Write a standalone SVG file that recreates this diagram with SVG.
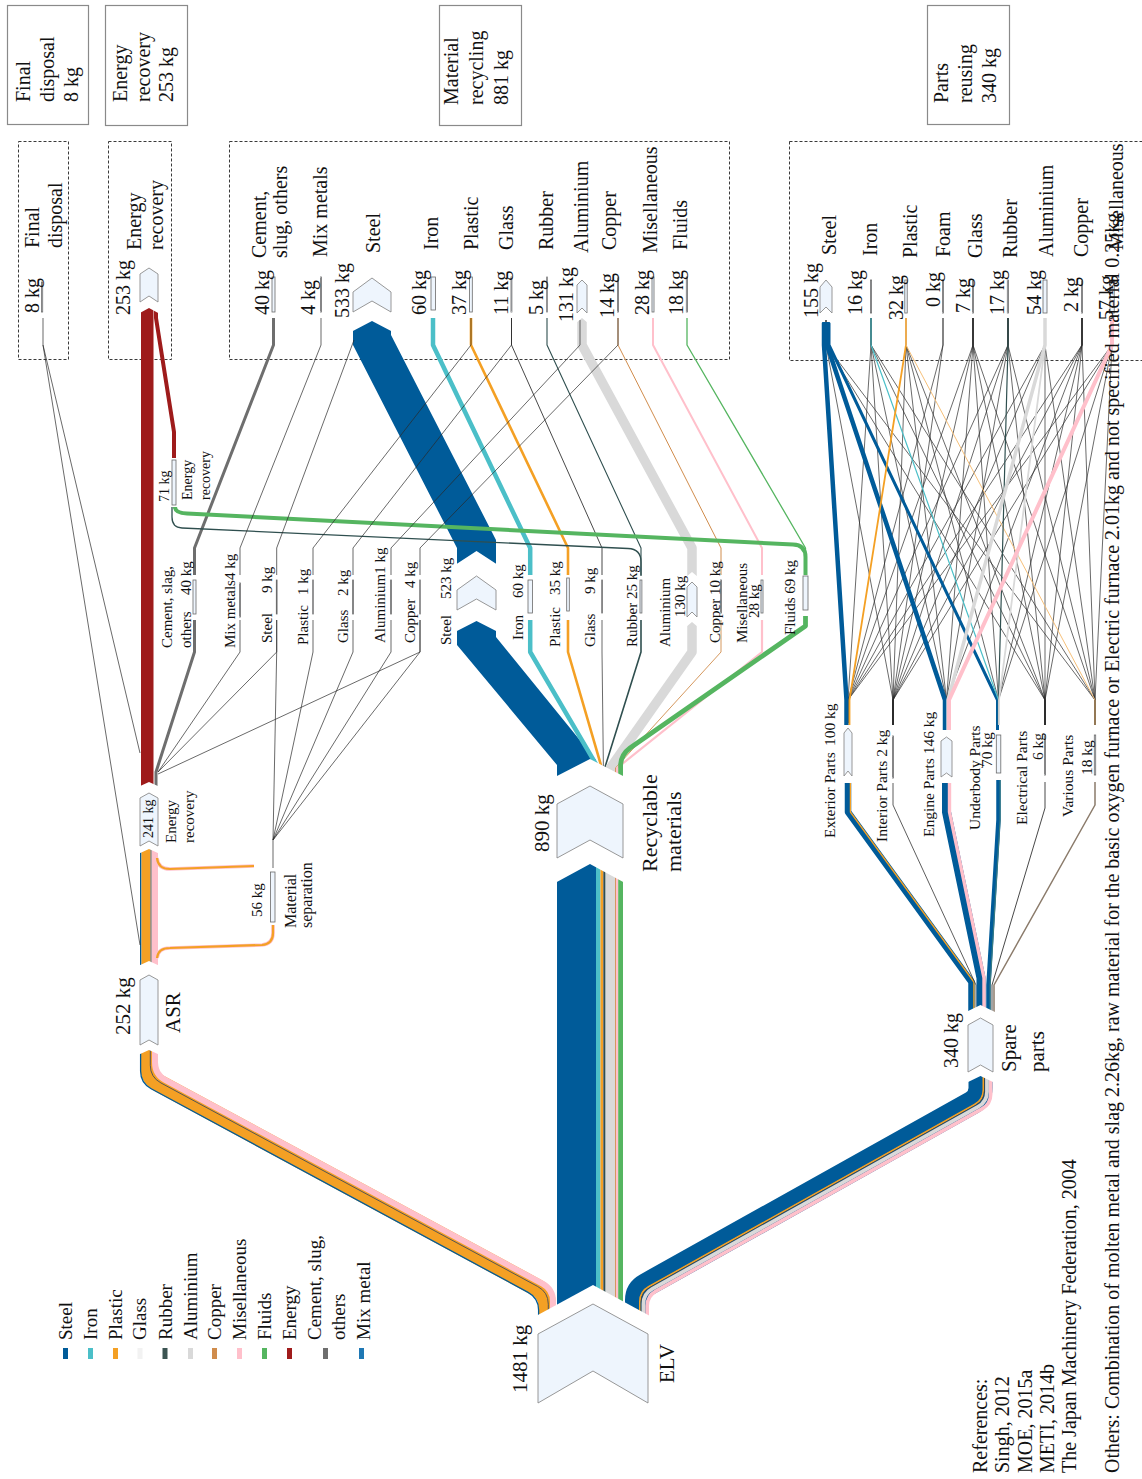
<svg xmlns="http://www.w3.org/2000/svg" width="1142" height="1479" viewBox="0 0 1142 1479">
<style>
text { font-family: "Liberation Serif", "Times New Roman", serif; fill: #111; }
.s22 { font-size: 22px; } .s21 { font-size: 21px; } .s20 { font-size: 20px; } .s19 { font-size: 19px; }
.s16 { font-size: 16px; } .s155 { font-size: 15.5px; } .s15 { font-size: 15px; } .s14 { font-size: 14px; }
.box { fill: none; stroke: #8a8a8a; stroke-width: 1.2; }
.dash { fill: none; stroke: #3a3a3a; stroke-width: 1; stroke-dasharray: 3 2; }
.node { fill: #eef5fd; stroke: #8c8c8c; stroke-width: 0.9; }
.bar { fill: #eef5fd; stroke: #6a6a6a; stroke-width: 0.8; }
.gap { fill: #fff; }
.ln { fill: none; stroke: #2a2a2a; stroke-width: 0.7; stroke-linejoin: round; }
.fl { fill: none; stroke-linejoin: round; }
</style>

<!-- summary boxes -->
<g id="summary-final">
  <rect class="box" x="7.5" y="5.5" width="81" height="119"/>
  <text class="s20" transform="translate(30,102) rotate(-90)">Final</text>
  <text class="s20" transform="translate(54,102) rotate(-90)">disposal</text>
  <text class="s20" transform="translate(78,102) rotate(-90)">8 kg</text>
</g>
<g id="summary-energy">
  <rect class="box" x="105.5" y="5.5" width="82" height="120"/>
  <text class="s20" transform="translate(127,102) rotate(-90)">Energy</text>
  <text class="s20" transform="translate(150,102) rotate(-90)">recovery</text>
  <text class="s20" transform="translate(173,102) rotate(-90)">253 kg</text>
</g>
<g id="summary-material">
  <rect class="box" x="439.5" y="5.5" width="82" height="120"/>
  <text class="s20" transform="translate(458,105) rotate(-90)">Material</text>
  <text class="s20" transform="translate(483,105) rotate(-90)">recycling</text>
  <text class="s20" transform="translate(508,105) rotate(-90)">881 kg</text>
</g>
<g id="summary-parts">
  <rect class="box" x="927.5" y="5.5" width="82" height="119"/>
  <text class="s20" transform="translate(948,103) rotate(-90)">Parts</text>
  <text class="s20" transform="translate(972,103) rotate(-90)">reusing</text>
  <text class="s20" transform="translate(996,103) rotate(-90)">340 kg</text>
</g>

<!-- process group frames -->
<g id="groups">
  <rect class="dash" x="18.5" y="141.5" width="50" height="218"/>
  <rect class="dash" x="108.5" y="141.5" width="63" height="218"/>
  <rect class="dash" x="229.5" y="141.5" width="500" height="218"/>
  <rect class="dash" x="789.5" y="141.5" width="360" height="219"/>
</g>

<g id="flows">
  <!-- ELV to ASR -->
  <path class="fl" stroke="#f4a024" stroke-width="18" d="M149 1045 V1066 q0 12 10.56 17.70 L536.44 1287.30 q10.56 5.70 10.56 17.70 V1330"/>
  <path class="fl" stroke="#005b99" stroke-width="1.3" d="M140.6 1045 V1071.01 q0 12 10.56 17.70 L528.04 1292.31 q10.56 5.70 10.56 17.70 V1330"/>
  <path class="fl" stroke="#555" stroke-width="1" d="M150.3 1045 V1065.22 q0 12 10.56 17.70 L537.74 1286.52 q10.56 5.70 10.56 17.70 V1330"/>
  <path class="fl" stroke="#ffc0cb" stroke-width="6" d="M155 1045 V1062.42 q0 12 10.56 17.70 L542.44 1283.72 q10.56 5.70 10.56 17.70 V1330"/>

  <!-- ELV to spare parts -->
  <path class="fl" stroke="#005b99" stroke-width="24" d="M980.5 1070 V1088 q0 10 -8.73 14.88 L645.73 1285.12 q-8.73 4.88 -8.73 14.88 V1330"/>
  <path class="fl" stroke="#f4a024" stroke-width="1.6" d="M983.3 1070 V1089.64 q0 10 -8.73 14.88 L648.53 1286.76 q-8.73 4.88 -8.73 14.88 V1330"/>
  <path class="fl" stroke="#444" stroke-width="0.9" d="M984.6 1070 V1090.41 q0 10 -8.73 14.88 L649.83 1287.53 q-8.73 4.88 -8.73 14.88 V1330"/>
  <path class="fl" stroke="#d9d9d9" stroke-width="3.8" d="M987 1070 V1091.82 q0 10 -8.73 14.88 L652.23 1288.94 q-8.73 4.88 -8.73 14.88 V1330"/>
  <path class="fl" stroke="#ffc0cb" stroke-width="3.6" d="M990.7 1070 V1093.99 q0 10 -8.73 14.88 L655.93 1291.11 q-8.73 4.88 -8.73 14.88 V1330"/>

  <!-- ELV to recyclable materials -->
  <rect x="557" y="860" width="39" height="470" fill="#005b99"/>
  <rect x="596" y="860" width="4.5" height="470" fill="#4bbfc8"/>
  <rect x="600.5" y="860" width="2.6" height="470" fill="#f4a024"/>
  <rect x="603.1" y="860" width="0.7" height="470" fill="#555"/>
  <rect x="603.8" y="860" width="1.8" height="470" fill="#2f4f4f"/>
  <rect x="605.6" y="860" width="9.5" height="470" fill="#d9d9d9"/>
  <rect x="615.1" y="860" width="0.9" height="470" fill="#d08c4c"/>
  <rect x="616" y="860" width="2.2" height="470" fill="#ffc0cb"/>
  <rect x="618.2" y="860" width="4.8" height="470" fill="#55b560"/>

  <!-- ASR to energy recovery -->
  <rect x="140" y="845" width="1.5" height="130" fill="#005b99"/>
  <rect x="141.5" y="845" width="9" height="130" fill="#f4a024"/>
  <rect x="150.5" y="845" width="1.1" height="130" fill="#555"/>
  <rect x="151.8" y="845" width="6.2" height="130" fill="#ffc0cb"/>

  <!-- ASR to material separation -->
  <path class="fl" stroke="#ffc0cb" stroke-width="3.6" d="M157 858 Q158 869 170 869 L254 866"/>
  <path class="fl" stroke="#f4a024" stroke-width="2.2" d="M157 858 Q158 869 170 869 L254 866"/>
  <path class="fl" stroke="#ffc0cb" stroke-width="3.6" d="M157 958 Q158 948 170 948 L262 945 Q273 944 273 933 V925"/>
  <path class="fl" stroke="#f4a024" stroke-width="2.2" d="M157 958 Q158 948 170 948 L262 945 Q273 944 273 933 V925"/>

  <!-- energy recovery chain -->
  <rect x="141" y="290" width="12.5" height="510" fill="#9e1b1b"/>
  <path class="fl" stroke="#9e1b1b" stroke-width="4" d="M156 290 V318 L174 432 V458"/>
  <path class="fl" stroke="#6e6e6e" stroke-width="3" d="M156 800 V772 L194.5 652 V620"/>

  <!-- recyclable materials to sorted fractions -->
  <polygon fill="#005b99" points="457,600 496,600 496,637 596,760 596,800 557,800 557,765 457,645"/>
  <path class="fl" stroke="#4bbfc8" stroke-width="4.5" d="M598.2 800 V768 L530.2 652 V620"/>
  <path class="fl" stroke="#f4a024" stroke-width="2.6" d="M601.8 800 V768 L568 652 V620"/>
  <path class="fl" stroke="#444" stroke-width="0.8" d="M603.4 800 V768 L602 652 V620"/>
  <path class="fl" stroke="#2f4f4f" stroke-width="1.6" d="M604.7 800 V768 L641 652 V620"/>
  <path class="fl" stroke="#d9d9d9" stroke-width="9.5" d="M610.3 800 V768 L692 652 V600"/>
  <path class="fl" stroke="#d08c4c" stroke-width="0.9" d="M615.5 800 V768 L721 652 V620"/>
  <path class="fl" stroke="#ffc0cb" stroke-width="2.2" d="M617.1 800 V768 L762 652 V620"/>
  <path class="fl" stroke="#55b560" stroke-width="4.8" d="M620.6 800 V766 Q620.6 755 630 748 L805.5 626 V616"/>

  <!-- sorted fractions to material recycling -->
  <polygon fill="#005b99" points="353,300 391,300 391,335 496,540 496,590 457,590 457,548 353,345"/>
  <path class="fl" stroke="#4bbfc8" stroke-width="4.5" d="M530.2 575 V548 L433 345 V318"/>
  <path class="fl" stroke="#f4a024" stroke-width="2.6" d="M568 575 V548 L471 345 V318"/>
  <path class="fl" stroke="#333" stroke-width="0.9" d="M602 575 V548 L511.5 345 V318"/>
  <path class="fl" stroke="#2f4f4f" stroke-width="1.1" d="M641 575 V548 L547 345 V318"/>
  <path class="fl" stroke="#d9d9d9" stroke-width="9.5" d="M692 600 V548 L582 345 V300"/>
  <path class="fl" stroke="#d08c4c" stroke-width="1" d="M721 575 V548 L618 345 V318"/>
  <path class="fl" stroke="#ffc0cb" stroke-width="2" d="M762 575 V548 L653 345 V318"/>
  <path class="fl" stroke="#55b560" stroke-width="1.3" d="M805.5 575 V548 L687 345 V318"/>
  <path class="fl" stroke="#6e6e6e" stroke-width="3" d="M194.5 575 V548 L273.5 345 V318"/>

  <!-- rubber and fluids to energy recovery -->
  <path class="fl" stroke="#55b560" stroke-width="4" d="M805.5 575 V557 Q805.5 545 793 544.5 L187 513.5 Q175 513 175 507"/>
  <path class="fl" stroke="#2f4f4f" stroke-width="1.3" d="M641 576 V562 Q641 549 628 548.5 L182 528 Q172 527.5 172 517 V507"/>

  <!-- thin residue flows -->
  <g class="ln">
    <path d="M43 318 V345 L140 945"/>
    <path d="M43 345 L140 753"/>
    <path d="M158 772 L240 652 V620"/>
    <path d="M158 772 L276.7 652 V620"/>
    <path d="M158 774 L420 652 V620"/>
    <path d="M273 868 V840 L276.7 652 V620"/>
    <path d="M273 840 L313 652 V620"/>
    <path d="M273 840 L353 652 V620"/>
    <path d="M273 840 L391 652 V620"/>
    <path d="M273 840 L420 652 V620"/>
    <path d="M240 575 V548 L321 345 V318"/>
    <path d="M276.7 575 V548 L354 340"/>
    <path d="M313 575 V548 L471 345 V318"/>
    <path d="M353 575 V548 L511.5 345 V318"/>
    <path d="M391 575 V548 L580 345 V320"/>
    <path d="M420 575 V548 L618 345 V318"/>
  </g>

  <!-- spare parts to part groups -->
  <path class="fl" stroke="#005b99" stroke-width="6.5" d="M848 783 V812 L971.5 982 V1020"/>
  <path class="fl" stroke="#f4a024" stroke-width="1.3" transform="translate(2.4,0)" d="M848 783 V812 L971.5 982 V1020"/>
  <path class="fl" stroke="#333" stroke-width="0.8" d="M893 783 V805 L976 985 V1020"/>
  <path class="fl" stroke="#005b99" stroke-width="9" d="M946.5 783 V812 L981 978 V1020"/>
  <path class="fl" stroke="#ffc0cb" stroke-width="3.4" transform="translate(3,0)" d="M946.5 783 V812 L981 978 V1020"/>
  <path class="fl" stroke="#005b99" stroke-width="4.5" d="M998.5 780 V820 L988.5 985 V1020"/>
  <path class="fl" stroke="#3f7f7f" stroke-width="1" transform="translate(1.6,0)" d="M998.5 780 V820 L988.5 985 V1020"/>
  <path class="fl" stroke="#333" stroke-width="0.9" d="M1045 782 V808 L992 985 V1020"/>
  <path class="fl" stroke="#8b7b6b" stroke-width="1.5" d="M1095 782 V805 L994 985 V1020"/>

  <!-- part groups to reused materials -->
  <g class="ln">
    <path d="M826 320 V345 L893 700 V725"/>
    <path d="M826 320 V345 L1045 700 V725"/>
    <path d="M826 320 V345 L1095 700 V725"/>
    <path d="M871 318 V345 L848 700 V723"/>
    <path d="M871 318 V345 L893 700 V725"/>
    <path d="M871 318 V345 L946.5 700 V725"/>
    <path d="M871 318 V345 L1045 700 V725"/>
    <path d="M871 318 V345 L1095 700 V725"/>
    <path d="M906 318 V345 L893 700 V725"/>
    <path d="M906 318 V345 L946.5 700 V725"/>
    <path d="M906 318 V345 L998.5 700 V725"/>
    <path d="M906 318 V345 L1045 700 V725"/>
    <path d="M943 318 V345 L848 700 V723"/>
    <path d="M943 318 V345 L893 700 V725"/>
    <path d="M973 318 V345 L848 700 V723"/>
    <path d="M973 318 V345 L893 700 V725"/>
    <path d="M973 318 V345 L946.5 700 V725"/>
    <path d="M973 318 V345 L998.5 700 V725"/>
    <path d="M973 318 V345 L1045 700 V725"/>
    <path d="M973 318 V345 L1095 700 V725"/>
    <path d="M1008 318 V345 L848 700 V723"/>
    <path d="M1008 318 V345 L893 700 V725"/>
    <path d="M1008 318 V345 L946.5 700 V725"/>
    <path d="M1008 318 V345 L1045 700 V725"/>
    <path d="M1008 318 V345 L1095 700 V725"/>
    <path d="M1045 318 V345 L848 700 V723"/>
    <path d="M1045 318 V345 L893 700 V725"/>
    <path d="M1045 318 V345 L1045 700 V725"/>
    <path d="M1045 318 V345 L1095 700 V725"/>
    <path d="M1082 318 V345 L848 700 V723"/>
    <path d="M1082 318 V345 L893 700 V725"/>
    <path d="M1082 318 V345 L946.5 700 V725"/>
    <path d="M1082 318 V345 L998.5 700 V725"/>
    <path d="M1082 318 V345 L1045 700 V725"/>
    <path d="M1082 318 V345 L1095 700 V725"/>
    <path d="M1112 318 V345 L848 700 V723"/>
    <path d="M1112 318 V345 L893 700 V725"/>
    <path d="M1112 318 V345 L998.5 700 V725"/>
    <path d="M1112 318 V345 L1045 700 V725"/>
    <path d="M1112 318 V345 L1095 700 V725"/>
  </g>
  <path class="fl" stroke="#005b99" stroke-width="4.5" d="M824 322 V345 L846.5 700 V725"/>
  <path class="fl" stroke="#005b99" stroke-width="4.5" d="M827 322 V345 L945 700 V730"/>
  <path class="fl" stroke="#005b99" stroke-width="3" d="M829 322 V345 L997.5 700 V730"/>
  <path class="fl" stroke="#4bbfc8" stroke-width="1.2" d="M871 318 V345 L998.5 700 V725"/>
  <path class="fl" stroke="#f4a024" stroke-width="1.8" d="M906 318 V345 L849.5 700 V725"/>
  <path class="fl" stroke="#f6c07a" stroke-width="1" d="M906 318 V345 L1095 700 V725"/>
  <path class="fl" stroke="#2f4f4f" stroke-width="1.2" d="M1008 318 V345 L998.5 700 V725"/>
  <path class="fl" stroke="#d9d9d9" stroke-width="3.5" d="M1045 318 V345 L948 700 V730"/>
  <path class="fl" stroke="#d9d9d9" stroke-width="1.8" d="M1045 318 V345 L999 700 V725"/>
  <path class="fl" stroke="#ffc0cb" stroke-width="4" d="M1112 318 V345 L949 700 V730"/>
</g>

<!-- clearances around chevron nodes -->
<g id="clearances" class="gap">
  <polygon points="536,1316 593,1285 650,1316 650,1410 536,1410"/>
  <polygon points="555,777 590,759 625,777 625,883 590,864 555,883"/>
  <polygon points="138,966 149,961 160,966 160,1055 149,1050 138,1055"/>
  <polygon points="138,787 149,782 160,787 160,854 149,849 138,854"/>
  <polygon points="138,270 149,264 160,270 160,314 149,308 138,314"/>
  <polygon points="966,1012 980.5,1005 995,1012 995,1083 980.5,1076 966,1083"/>
  <polygon points="455,565 476.5,551 498,565 498,632 476.5,621 455,632"/>
  <polygon points="351,290 372,276 393,290 393,332 372,321 351,332"/>
  <polygon points="686,577 692,572 698,577 698,627 692,622 686,627"/>
  <polygon points="576,285 582,280 588,285 588,323 582,318 576,323"/>
  <polygon points="819,287 826,280 833,287 833,325 826,319 819,325"/>
</g>

<!-- main nodes -->
<g id="n-elv">
  <polygon class="node" points="538,1334 593,1304 648,1334 648,1403 593,1371 538,1403"/>
  <text class="s21" transform="translate(527,1393) rotate(-90)">1481 kg</text>
  <text class="s21" transform="translate(674,1383) rotate(-90)">ELV</text>
</g>
<g id="n-asr">
  <polygon class="node" points="140,980 149,975 158,980 158,1045 149,1040 140,1045"/>
  <text class="s21" transform="translate(130,1035) rotate(-90)">252 kg</text>
  <text class="s21" transform="translate(180,1033) rotate(-90)">ASR</text>
</g>
<g id="n-recyclable">
  <polygon class="node" points="557,804 590,786 623,804 623,858 590,840 557,858"/>
  <text class="s21" transform="translate(549,852) rotate(-90)">890 kg</text>
  <text class="s22" transform="translate(657,872) rotate(-90)">Recyclable</text>
  <text class="s22" transform="translate(681,872) rotate(-90)">materials</text>
</g>
<g id="n-spare">
  <polygon class="node" points="968,1025 980.5,1018 993,1025 993,1072 980.5,1065 968,1072"/>
  <text class="s20" transform="translate(958,1068) rotate(-90)">340 kg</text>
  <text class="s21" transform="translate(1016,1072) rotate(-90)">Spare</text>
  <text class="s21" transform="translate(1044,1072) rotate(-90)">parts</text>
</g>
<g id="n-asr-energy">
  <polygon class="node" points="140,798 149,793 158,798 158,846 149,841 140,846"/>
  <text class="s14" transform="translate(153,838) rotate(-90)">241 kg</text>
  <text class="s15" transform="translate(176,843) rotate(-90)">Energy</text>
  <text class="s15" transform="translate(194,843) rotate(-90)">recovery</text>
</g>
<g id="n-matsep">
  <rect class="bar" x="270.5" y="872" width="4.5" height="50"/>
  <text class="s15" transform="translate(262,917) rotate(-90)">56 kg</text>
  <text class="s16" transform="translate(296,928) rotate(-90)">Material</text>
  <text class="s16" transform="translate(312,928) rotate(-90)">separation</text>
</g>
<g id="n-energy71">
  <rect class="bar" x="172" y="460" width="4" height="45"/>
  <text class="s14" transform="translate(169,502) rotate(-90)">71 kg</text>
  <text class="s14" transform="translate(192,500) rotate(-90)">Energy</text>
  <text class="s14" transform="translate(210,500) rotate(-90)">recovery</text>
</g>

<!-- sorted fractions -->
<g id="n-cement40"><rect class="bar" x="193" y="580" width="3" height="34"/>
  <text class="s15" transform="translate(172,648) rotate(-90)">Cement, slag,</text>
  <text class="s15" transform="translate(191,648) rotate(-90)">others<tspan x="53">40 kg</tspan></text></g>
<g id="n-mix4"><rect class="bar" x="239.5" y="583" width="1" height="34"/>
  <text class="s15" transform="translate(235,648) rotate(-90)">Mix metals4 kg</text></g>
<g id="n-steel9"><rect class="bar" x="276.3" y="580" width="0.8" height="34"/>
  <text class="s15" transform="translate(272,643) rotate(-90)">Steel<tspan x="50">9 kg</tspan></text></g>
<g id="n-plastic1"><rect class="bar" x="312.7" y="580" width="0.6" height="34"/>
  <text class="s15" transform="translate(308,645) rotate(-90)">Plastic<tspan x="50">1 kg</tspan></text></g>
<g id="n-glass2"><rect class="bar" x="352.6" y="580" width="0.8" height="34"/>
  <text class="s15" transform="translate(348,643) rotate(-90)">Glass<tspan x="47">2 kg</tspan></text></g>
<g id="n-alu1"><rect class="bar" x="390.6" y="580" width="0.8" height="34"/>
  <text class="s15" transform="translate(385,643) rotate(-90)">Aluminium1 kg</text></g>
<g id="n-copper4"><rect class="bar" x="419.7" y="580" width="0.6" height="34"/>
  <text class="s15" transform="translate(415,643) rotate(-90)">Copper<tspan x="55">4 kg</tspan></text></g>
<g id="n-steel523"><polygon class="node" points="457,590 476.5,576 496,590 496,610 476.5,599 457,610"/>
  <text class="s15" transform="translate(451,645) rotate(-90)">Steel<tspan x="46">523 kg</tspan></text></g>
<g id="n-iron60"><rect class="bar" x="528" y="580" width="4.4" height="33"/>
  <text class="s15" transform="translate(523,640) rotate(-90)">Iron<tspan x="42">60 kg</tspan></text></g>
<g id="n-plastic35"><rect class="bar" x="566.7" y="578" width="2.6" height="33"/>
  <text class="s15" transform="translate(560,647) rotate(-90)">Plastic<tspan x="52">35 kg</tspan></text></g>
<g id="n-glass9"><rect class="bar" x="601.7" y="580" width="0.7" height="33"/>
  <text class="s15" transform="translate(595,647) rotate(-90)">Glass<tspan x="53">9 kg</tspan></text></g>
<g id="n-rubber25"><rect class="bar" x="640" y="580" width="1.9" height="33"/>
  <text class="s15" transform="translate(637,647) rotate(-90)">Rubber 25 kg</text></g>
<g id="n-alu130"><polygon class="node" points="687,587 692,582 697,587 697,617 692,612 687,617"/>
  <text class="s15" transform="translate(670,647) rotate(-90)">Aluminium</text>
  <text class="s15" transform="translate(685,617) rotate(-90)">130 kg</text></g>
<g id="n-copper10"><rect class="bar" x="720.6" y="580" width="0.8" height="33"/>
  <text class="s15" transform="translate(720,643) rotate(-90)">Copper 10 kg</text></g>
<g id="n-misc28"><rect class="bar" x="761" y="580" width="2" height="33"/>
  <text class="s15" transform="translate(747,643) rotate(-90)">Misellaneous</text>
  <text class="s15" transform="translate(759,618) rotate(-90)">28 kg</text></g>
<g id="n-fluids69"><rect class="bar" x="803" y="576" width="5" height="34"/>
  <text class="s15" transform="translate(795,635) rotate(-90)">Fluids 69 kg</text></g>

<!-- final disposal and energy recovery -->
<g id="n-final8"><rect class="bar" x="41.5" y="282" width="1.2" height="30"/>
  <text class="s20" transform="translate(39,313) rotate(-90)">8 kg</text>
  <text class="s20" transform="translate(39,248) rotate(-90)">Final</text>
  <text class="s20" transform="translate(62,248) rotate(-90)">disposal</text></g>
<g id="n-energy253"><polygon class="node" points="140,274 149,268 158,274 158,302 149,296 140,302"/>
  <text class="s20" transform="translate(130,315) rotate(-90)">253 kg</text>
  <text class="s20" transform="translate(141,250) rotate(-90)">Energy</text>
  <text class="s20" transform="translate(163,250) rotate(-90)">recovery</text></g>

<!-- material recycling outputs -->
<g id="n-r-cement"><rect class="bar" x="272" y="277" width="3" height="35"/>
  <text class="s20" transform="translate(269,315) rotate(-90)">40 kg</text>
  <text class="s20" transform="translate(266,258) rotate(-90)">Cement,</text>
  <text class="s20" transform="translate(287,258) rotate(-90)">slug, others</text></g>
<g id="n-r-mix"><rect class="bar" x="320.5" y="277" width="1" height="35"/>
  <text class="s20" transform="translate(315,315) rotate(-90)">4 kg</text>
  <text class="s20" transform="translate(327,257) rotate(-90)">Mix metals</text></g>
<g id="n-r-steel"><polygon class="node" points="353,292 372,278 391,292 391,312 372,301 353,312"/>
  <text class="s20" transform="translate(349,318) rotate(-90)">533 kg</text>
  <text class="s20" transform="translate(380,253) rotate(-90)">Steel</text></g>
<g id="n-r-iron"><rect class="bar" x="431" y="277" width="4.4" height="33"/>
  <text class="s20" transform="translate(426,315) rotate(-90)">60 kg</text>
  <text class="s20" transform="translate(438,250) rotate(-90)">Iron</text></g>
<g id="n-r-plastic"><rect class="bar" x="469.6" y="277" width="2.7" height="35"/>
  <text class="s20" transform="translate(466,315) rotate(-90)">37 kg</text>
  <text class="s20" transform="translate(478,250) rotate(-90)">Plastic</text></g>
<g id="n-r-glass"><rect class="bar" x="511" y="277" width="0.9" height="35"/>
  <text class="s20" transform="translate(508,315) rotate(-90)">11 kg</text>
  <text class="s20" transform="translate(513,250) rotate(-90)">Glass</text></g>
<g id="n-r-rubber"><rect class="bar" x="546.7" y="277" width="0.6" height="35"/>
  <text class="s20" transform="translate(543,315) rotate(-90)">5 kg</text>
  <text class="s20" transform="translate(553,250) rotate(-90)">Rubber</text></g>
<g id="n-r-alu"><polygon class="node" points="577,285 582,280 587,285 587,313 582,308 577,313"/>
  <text class="s20" transform="translate(573,322) rotate(-90)">131 kg</text>
  <text class="s20" transform="translate(588,253) rotate(-90)">Aluminium</text></g>
<g id="n-r-copper"><rect class="bar" x="617.5" y="277" width="1" height="35"/>
  <text class="s20" transform="translate(614,318) rotate(-90)">14 kg</text>
  <text class="s20" transform="translate(616,250) rotate(-90)">Copper</text></g>
<g id="n-r-misc"><rect class="bar" x="652" y="277" width="2" height="35"/>
  <text class="s20" transform="translate(649,315) rotate(-90)">28 kg</text>
  <text class="s20" transform="translate(657,253) rotate(-90)">Misellaneous</text></g>
<g id="n-r-fluids"><rect class="bar" x="686.3" y="277" width="1.3" height="35"/>
  <text class="s20" transform="translate(683,315) rotate(-90)">18 kg</text>
  <text class="s20" transform="translate(687,250) rotate(-90)">Fluids</text></g>

<!-- part groups -->
<g id="n-exterior"><polygon class="node" points="844,733 848,728 852,733 852,776 848,771 844,776"/>
  <text class="s155" transform="translate(835,838) rotate(-90)">Exterior Parts<tspan x="92">100 kg</tspan></text></g>
<g id="n-interior"><rect class="bar" x="892.5" y="736" width="1" height="42"/>
  <text class="s155" transform="translate(887,842) rotate(-90)">Interior Parts 2 kg</text></g>
<g id="n-engine"><polygon class="node" points="941,741 946.5,737 952,741 952,777 946.5,773 941,777"/>
  <text class="s155" transform="translate(934,837) rotate(-90)">Engine Parts 146 kg</text></g>
<g id="n-underbody"><rect class="bar" x="996.3" y="735" width="4.5" height="38"/>
  <text class="s155" transform="translate(980,830) rotate(-90)">Underbody Parts</text>
  <text class="s155" transform="translate(992,767) rotate(-90)">70 kg</text></g>
<g id="n-electrical"><rect class="bar" x="1044.5" y="735" width="1" height="40"/>
  <text class="s155" transform="translate(1027,825) rotate(-90)">Electrical Parts</text>
  <text class="s155" transform="translate(1043,760) rotate(-90)">6 kg</text></g>
<g id="n-various"><rect class="bar" x="1094.3" y="735" width="1.4" height="40"/>
  <text class="s155" transform="translate(1073,817) rotate(-90)">Various Parts</text>
  <text class="s155" transform="translate(1092,775) rotate(-90)">18 kg</text></g>

<!-- parts reusing outputs -->
<g id="n-p-steel"><polygon class="node" points="820,287 826,280 832,287 832,313 826,307 820,313"/>
  <text class="s20" transform="translate(818,318) rotate(-90)">155 kg</text>
  <text class="s20" transform="translate(836,255) rotate(-90)">Steel</text></g>
<g id="n-p-iron"><rect class="bar" x="870.4" y="280" width="1.2" height="33"/>
  <text class="s20" transform="translate(862,315) rotate(-90)">16 kg</text>
  <text class="s20" transform="translate(877,256) rotate(-90)">Iron</text></g>
<g id="n-p-plastic"><rect class="bar" x="904.8" y="280" width="2.4" height="33"/>
  <text class="s20" transform="translate(903,320) rotate(-90)">32 kg</text>
  <text class="s20" transform="translate(917,258) rotate(-90)">Plastic</text></g>
<g id="n-p-foam"><rect class="bar" x="942.6" y="280" width="0.8" height="33"/>
  <text class="s20" transform="translate(940,307) rotate(-90)">0 kg</text>
  <text class="s20" transform="translate(950,257) rotate(-90)">Foam</text></g>
<g id="n-p-glass"><rect class="bar" x="972.5" y="280" width="1" height="33"/>
  <text class="s20" transform="translate(970,313) rotate(-90)">7 kg</text>
  <text class="s20" transform="translate(982,258) rotate(-90)">Glass</text></g>
<g id="n-p-rubber"><rect class="bar" x="1007.3" y="280" width="1.3" height="33"/>
  <text class="s20" transform="translate(1004,315) rotate(-90)">17 kg</text>
  <text class="s20" transform="translate(1017,258) rotate(-90)">Rubber</text></g>
<g id="n-p-alu"><rect class="bar" x="1043" y="280" width="4" height="33"/>
  <text class="s20" transform="translate(1041,315) rotate(-90)">54 kg</text>
  <text class="s20" transform="translate(1053,257) rotate(-90)">Aluminium</text></g>
<g id="n-p-copper"><rect class="bar" x="1081.6" y="280" width="0.8" height="33"/>
  <text class="s20" transform="translate(1078,312) rotate(-90)">2 kg</text>
  <text class="s20" transform="translate(1088,257) rotate(-90)">Copper</text></g>
<g id="n-p-misc"><rect class="bar" x="1110" y="280" width="4.2" height="33"/>
  <text class="s20" transform="translate(1113,320) rotate(-90)">57 kg</text>
  <text class="s20" transform="translate(1123,250) rotate(-90)">Misellaneous</text></g>

<!-- legend -->
<g id="legend">
  <rect x="63" y="1348" width="5" height="11" fill="#005b99"/>
  <text class="s19" transform="translate(72,1340) rotate(-90)">Steel</text>
  <rect x="88" y="1348" width="5" height="11" fill="#4bbfc8"/>
  <text class="s19" transform="translate(97,1340) rotate(-90)">Iron</text>
  <rect x="113" y="1348" width="5" height="11" fill="#f4a024"/>
  <text class="s19" transform="translate(122,1340) rotate(-90)">Plastic</text>
  <rect x="137.5" y="1348" width="5" height="11" fill="#f2f2f2"/>
  <text class="s19" transform="translate(146,1340) rotate(-90)">Glass</text>
  <rect x="162.5" y="1348" width="5" height="11" fill="#3b5452"/>
  <text class="s19" transform="translate(172,1340) rotate(-90)">Rubber</text>
  <rect x="188" y="1348" width="5" height="11" fill="#d9d9d9"/>
  <text class="s19" transform="translate(197,1340) rotate(-90)">Aluminium</text>
  <rect x="212" y="1348" width="5" height="11" fill="#d08c4c"/>
  <text class="s19" transform="translate(221,1340) rotate(-90)">Copper</text>
  <rect x="237" y="1348" width="5" height="11" fill="#ffc0cb"/>
  <text class="s19" transform="translate(246,1340) rotate(-90)">Misellaneous</text>
  <rect x="262" y="1348" width="5" height="11" fill="#55b560"/>
  <text class="s19" transform="translate(271,1340) rotate(-90)">Fluids</text>
  <rect x="287" y="1348" width="5" height="11" fill="#a01c1c"/>
  <text class="s19" transform="translate(296,1340) rotate(-90)">Energy</text>
  <rect x="323" y="1348" width="5" height="11" fill="#6e6e6e"/>
  <text class="s19" transform="translate(321,1340) rotate(-90)">Cement, slug,</text>
  <text class="s19" transform="translate(345,1340) rotate(-90)">others</text>
  <rect x="359" y="1348" width="5" height="11" fill="#1f78b4"/>
  <text class="s19" transform="translate(370,1340) rotate(-90)">Mix metal</text>
</g>

<!-- sources and note -->
<g id="references">
  <text class="s20" transform="translate(987,1473) rotate(-90)">References:</text>
  <text class="s20" transform="translate(1009,1473) rotate(-90)">Singh, 2012</text>
  <text class="s20" transform="translate(1032,1473) rotate(-90)">MOE, 2015a</text>
  <text class="s20" transform="translate(1054,1473) rotate(-90)">METI, 2014b</text>
  <text class="s20" transform="translate(1076,1473) rotate(-90)">The Japan Machinery Federation, 2004</text>
  <text class="s20" transform="translate(1119,1473) rotate(-90)">Others: Combination of molten metal and slag 2.26kg, raw material for the basic oxygen furnace or Electric furnace 2.01kg and not specified material 0.25kg</text>
</g>
</svg>
